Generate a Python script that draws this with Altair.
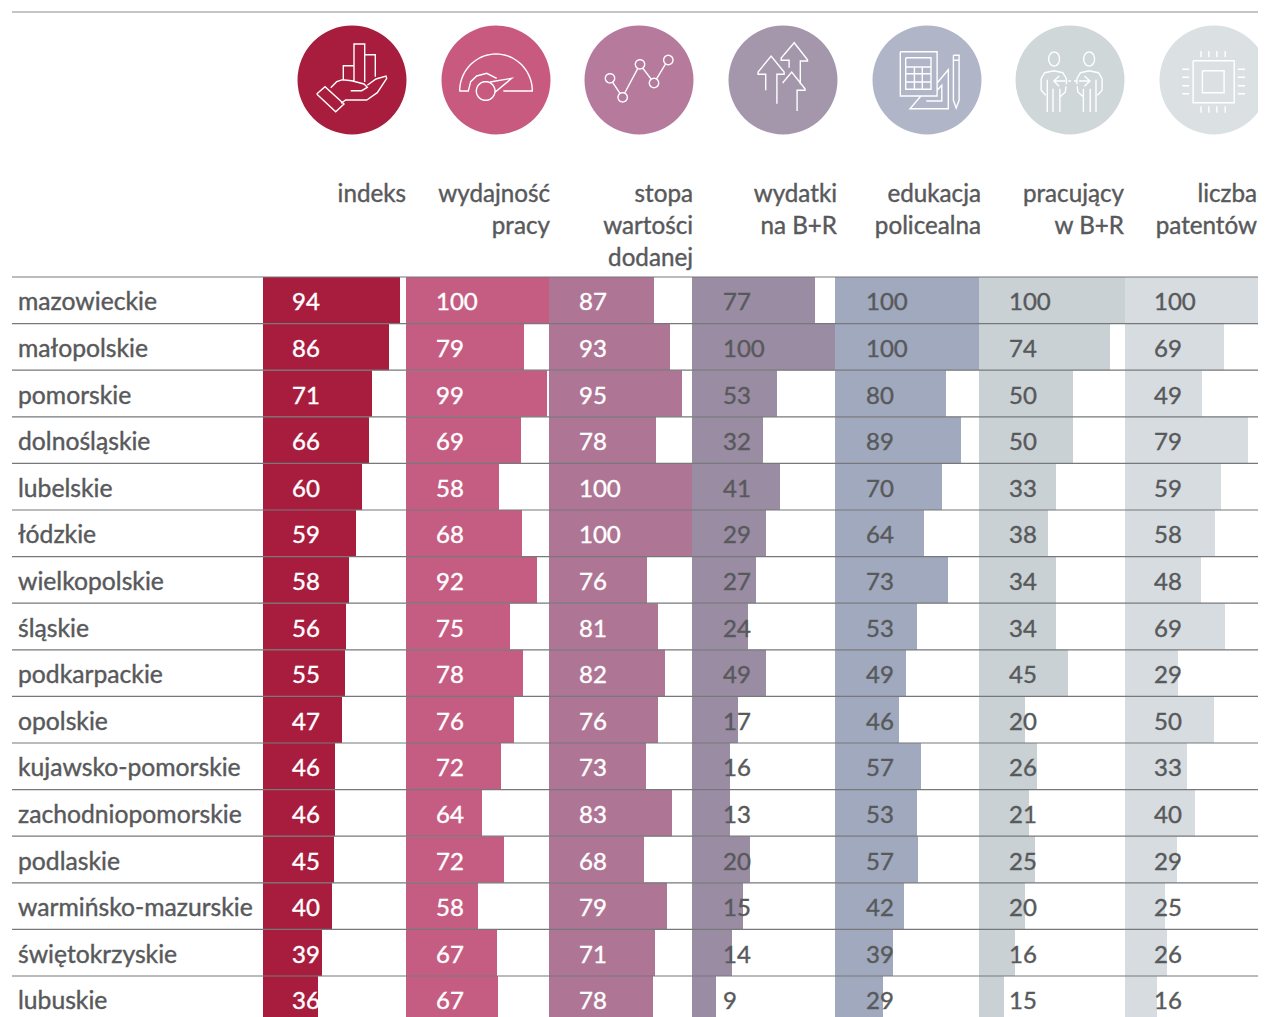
import math
import altair as alt
import pandas as pd

# ---------- data ----------
regions = ["mazowieckie", "małopolskie", "pomorskie", "dolnośląskie", "lubelskie", "łódzkie",
           "wielkopolskie", "śląskie", "podkarpackie", "opolskie", "kujawsko-pomorskie",
           "zachodniopomorskie", "podlaskie", "warmińsko-mazurskie", "świętokrzyskie", "lubuskie"]
headers = ["indeks", "wydajność|pracy", "stopa|wartości|dodanej", "wydatki|na B+R",
           "edukacja|policealna", "pracujący|w B+R", "liczba|patentów"]

val_indeks = [94, 86, 71, 66, 60, 59, 58, 56, 55, 47, 46, 46, 45, 40, 39, 36]
val_wydajnosc = [100, 79, 99, 69, 58, 68, 92, 75, 78, 76, 72, 64, 72, 58, 67, 67]
val_stopa = [87, 93, 95, 78, 100, 100, 76, 81, 82, 76, 73, 83, 68, 79, 71, 78]
val_wydatki = [77, 100, 53, 32, 41, 29, 27, 24, 49, 17, 16, 13, 20, 15, 14, 9]
val_edukacja = [100, 100, 80, 89, 70, 64, 73, 53, 49, 46, 57, 53, 57, 42, 39, 29]
val_pracujacy = [100, 74, 50, 50, 33, 38, 34, 34, 45, 20, 26, 21, 25, 20, 16, 15]
val_patenty = [100, 69, 49, 79, 59, 58, 48, 69, 29, 50, 33, 40, 29, 25, 26, 16]
values = [val_indeks, val_wydajnosc, val_stopa, val_wydatki, val_edukacja, val_pracujacy, val_patenty]

# drawn bar lengths (they are not proportional to the printed numbers)
bar_indeks = [137, 126, 109, 106, 99, 93, 86, 83, 82, 79, 72, 72, 71, 69, 59, 55]
bar_wydajnosc = [143, 118, 141, 115, 93, 116, 131, 104, 117, 108, 95, 76, 98, 72, 91, 92]
bar_stopa = [105, 121, 133, 107, 143, 143, 98, 109, 116, 109, 97, 123, 95, 118, 106, 104]
bar_wydatki = [123, 143, 85, 71, 88, 74, 64, 56, 74, 46, 38, 38, 58, 51, 40, 24]
bar_edukacja = [145, 144, 111, 126, 107, 89, 113, 82, 71, 64, 86, 82, 83, 69, 58, 48]
bar_pracujacy = [146, 131, 94, 94, 77, 69, 77, 77, 89, 46, 58, 50, 56, 46, 36, 25]
bar_patenty = [144, 99, 77, 123, 96, 90, 76, 100, 53, 89, 62, 70, 52, 40, 42, 32]
bars = [bar_indeks, bar_wydajnosc, bar_stopa, bar_wydatki, bar_edukacja, bar_pracujacy, bar_patenty]

# ---------- layout and style ----------
FONT = "Lato"
TXT = "#58595b"
W, H = 1250, 1009
col_start = [255, 398, 541, 684, 827, 971, 1117]
label_x = [284, 428, 571, 715, 858, 1001, 1146]
head_right = [398, 542, 685, 829, 973, 1116, 1249]
centers = [344, 488, 631, 775, 919, 1062, 1206]
bar_col = ["#a81c3e", "#c55c82", "#ae7594", "#9a8ca3", "#a0a9bd", "#c9d1d4", "#d6dcdf"]
circ_col = ["#a81c3d", "#c85a80", "#b67b9c", "#a597ab", "#b1b5c8", "#d0d7d9", "#dbe0e2"]
num_col = ["white", "white", "white", TXT, TXT, TXT, TXT]


def ring(cx, cy, rx, ry, a0=0, a1=360, n=36):
    return [(cx + rx * math.cos(math.radians(a0 + (a1 - a0) * i / n)),
             cy + ry * math.sin(math.radians(a0 + (a1 - a0) * i / n))) for i in range(n + 1)]


def icon(lines, cx, cy, sx, sy):
    parts = []
    for ln in lines:
        pts = [((x - cx) / sx, (y - cy) / sy) for x, y in ln]
        parts.append("M" + " L".join(f"{x:.1f} {y:.1f}" for x, y in pts))
    return " ".join(parts)


def rect(a, b, c, d):
    return [(a, b), (c, b), (c, d), (a, d), (a, b)]


ic1 = [[(190, 212), (190, 167), (222, 167)], [(222, 214), (222, 102), (254, 102), (254, 216)],
       [(254, 134), (286, 134), (286, 200)],
       [(110, 252), (135, 230), (192, 282), (167, 305), (110, 252)],
       [(152, 233), (170, 215), (188, 209), (215, 212), (252, 222), (262, 232), (245, 242), (212, 242)],
       [(262, 226), (288, 207), (318, 198), (320, 205), (292, 248), (260, 270), (197, 270), (183, 280)]]
ic2 = [ring(648, 243, 109, 111, 180, 360) + [(670, 243)],
       [(538, 243), (565, 243), (572, 215), (590, 198), (620, 190), (650, 205)],
       ring(617, 243, 28, 28),
       [(630, 216), (695, 205), (645, 247)]]
ic3 = [ring(990, 205, 14, 14), ring(1028, 262, 14, 14), ring(1080, 163, 14, 14),
       ring(1122, 219, 14, 14), ring(1165, 150, 14, 14),
       [(998, 217), (1020, 250)], [(1034, 249), (1073, 176)], [(1089, 175), (1113, 207)], [(1130, 206), (1156, 163)]]
ic4 = [[(181, 240), (181, 192), (160, 192), (160, 185), (196, 137), (232, 185), (232, 192), (212, 192), (212, 280)],
       [(246, 172), (246, 150), (224, 150), (224, 143), (260, 97), (297, 148), (297, 152), (277, 152), (277, 222)],
       [(228, 218), (253, 185), (290, 235), (290, 240), (268, 240), (268, 302)]]
ic5 = [rect(553, 124, 655, 257), rect(568, 142, 638, 237),
       [(568, 170), (638, 170)], [(568, 190), (638, 190)], [(568, 215), (638, 215)],
       [(592, 170), (592, 237)], [(614, 170), (614, 237)],
       [(655, 218), (686, 178), (686, 295), (580, 295), (610, 257)],
       [(625, 272), (668, 272), (668, 225), (655, 240)],
       [(700, 135), (716, 135), (716, 270), (708, 293), (700, 270), (700, 135)], [(700, 150), (716, 150)]]
person = [ring(981, 146, 15, 21),
          [(945, 240), (945, 205), (955, 187), (981, 181), (1005, 187), (1015, 205), (1015, 222)],
          [(945, 240), (958, 255)], [(962, 208), (962, 305)], [(978, 235), (978, 305)],
          [(997, 235), (997, 305)], [(997, 260), (1012, 245), (1014, 228)]]
person_r = [[(2059 - x, y) for x, y in ln] for ln in person]
ic6 = person + person_r + [[(995, 197), (980, 212), (995, 228)], [(980, 212), (1012, 212)],
                           [(1020, 212), (1028, 212)], [(1036, 212), (1044, 212)], [(1050, 212), (1080, 212)],
                           [(1065, 197), (1080, 212), (1065, 228)]]
ic7 = [rect(1366, 151, 1480, 277), rect(1392, 181, 1452, 247)]
for px in (1388, 1410, 1432, 1455):
    ic7 += [[(px, 122), (px, 140)], [(px, 288), (px, 307)]]
for py in (177, 201, 226, 250):
    ic7 += [[(1336, py), (1355, py)], [(1490, py), (1510, py)]]

paths = [icon(ic1, 216, 210, 3, 3), icon(ic2, 648, 210, 3, 3), icon(ic3, 1077, 210, 3, 3),
         icon(ic4, 229, 209, 2.77, 3), icon(ic5, 627, 209, 2.77, 3),
         icon(ic6, 1025, 209, 2.77, 3), icon(ic7, 1424, 209, 2.77, 3)]

rows = []
for c in range(7):
    for r, reg in enumerate(regions):
        rows.append({"region": reg, "col": c, "x0": col_start[c], "x1": col_start[c] + bars[c][r],
                     "lx": label_x[c], "value": values[c][r], "fill": bar_col[c], "tcol": num_col[c]})
table = pd.DataFrame(rows)
heads = pd.DataFrame({"head": headers, "x": head_right, "cx": centers, "fill": circ_col, "path": paths})
labels = pd.DataFrame({"region": regions})

xs = alt.Scale(domain=[0, W], range=[0, W])
ys = alt.Scale(domain=regions, range=[269, 1014.6], paddingInner=0, paddingOuter=0)
X = lambda f: alt.X(f, type="quantitative", scale=xs, axis=None)
Y = alt.Y("region:N", scale=ys, axis=None, sort=regions)

bar_layer = alt.Chart(table).mark_bar(clip=True, cornerRadius=0).encode(
    x=X("x0"), x2="x1:Q", y=Y, color=alt.Color("fill:N", scale=None))
rules = alt.Chart(labels).mark_rule(color="#77787b", strokeWidth=1.2).encode(
    x=alt.value(4), x2=alt.value(W),
    y=alt.Y("region:N", scale=ys, axis=None, sort=regions, bandPosition=0))
top_rule = alt.Chart(heads.head(1)).mark_rule(color="#8a8b8d", strokeWidth=1.2).encode(
    x=alt.value(4), x2=alt.value(W), y=alt.value(4))
num_layer = alt.Chart(table).mark_text(align="left", font=FONT, fontSize=24, strokeWidth=0.4, dy=3, clip=True).encode(
    x=X("lx"), y=Y, text="value:Q", color=alt.Color("tcol:N", scale=None), stroke=alt.Stroke("tcol:N", scale=None))
reg_layer = alt.Chart(labels).mark_text(align="left", font=FONT, fontSize=24.7, color=TXT, stroke=TXT, strokeWidth=0.4, dy=3, clip=True).encode(
    x=alt.value(10), y=Y, text="region:N")
head_layer = alt.Chart(heads).mark_text(align="right", baseline="top", font=FONT, fontSize=24.2, color=TXT, stroke=TXT, strokeWidth=0.4,
                                        lineBreak="|", lineHeight=32, clip=True).encode(
    x=X("x"), y=alt.value(175), text="head:N")
circles = alt.Chart(heads).mark_point(filled=True, shape="circle", opacity=1, size=11881).encode(
    x=X("cx"), y=alt.value(72), color=alt.Color("fill:N", scale=None))
glyphs = alt.Chart(heads).mark_point(filled=False, opacity=1, stroke="white", strokeWidth=1.4, size=4).encode(
    x=X("cx"), y=alt.value(72), shape=alt.Shape("path:N", scale=None))

chart = alt.layer(bar_layer, rules, top_rule, num_layer, reg_layer, head_layer, circles, glyphs).properties(
    width=W, height=H, padding=0, autosize=alt.AutoSizeParams(type="none"), background="white"
).configure_view(stroke=None)
chart.save("out.html", embed_options={"renderer": "svg", "actions": False})
